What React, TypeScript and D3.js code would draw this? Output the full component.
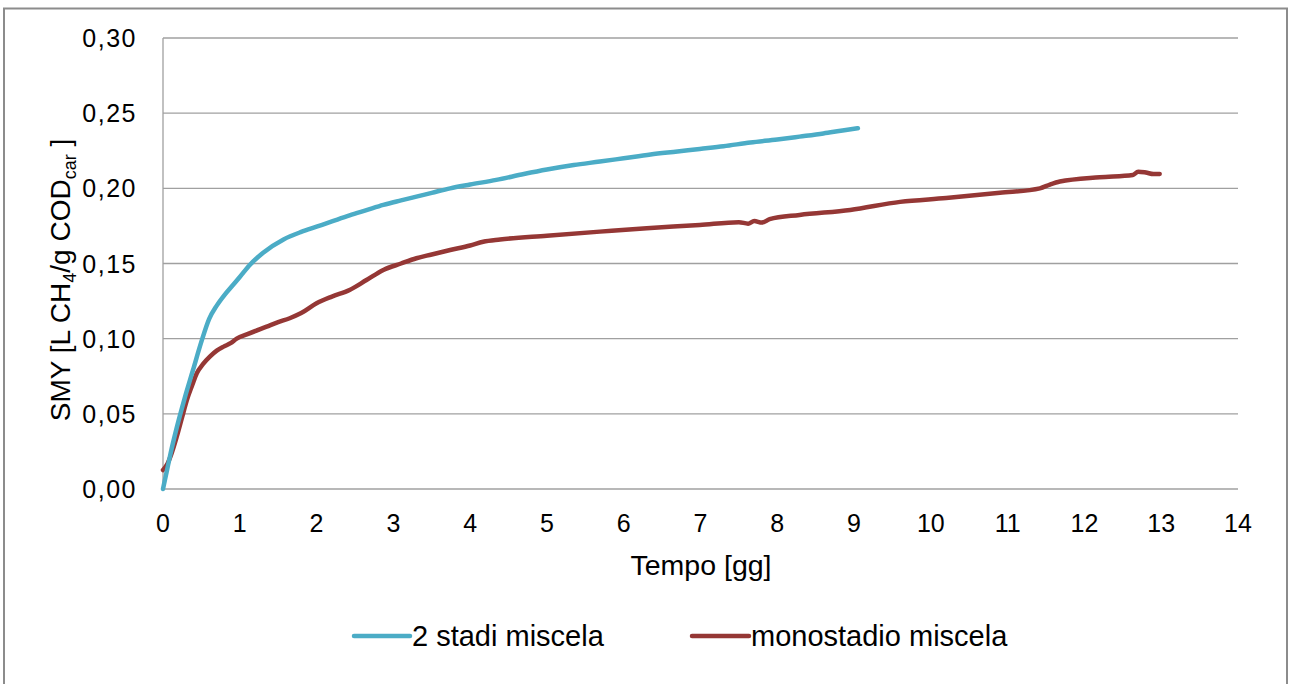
import React from "react";
import * as d3 from "d3";

const xTicks = [0, 1, 2, 3, 4, 5, 6, 7, 8, 9, 10, 11, 12, 13, 14];
const yTicks = [0, 0.05, 0.1, 0.15, 0.2, 0.25, 0.3];

const seriesNames = ["2 stadi miscela", "monostadio miscela"];
const seriesColors = ["#4BACC6", "#953735"];

const twoStageX = [0, 0.05, 0.1, 0.18, 0.28, 0.39, 0.5, 0.6, 0.7, 0.8, 0.9, 1.0, 1.13, 1.3, 1.57, 1.8, 2.0, 2.2, 2.43, 2.65, 2.87, 3.1, 3.3, 3.5, 3.74, 4.0, 4.34, 4.7, 5.0, 5.35, 5.69, 6.0, 6.35, 6.7, 6.99, 7.3, 7.65, 8.0, 8.29, 8.6, 8.85, 9.05];
const twoStageY = [0, 0.012, 0.024, 0.041, 0.06, 0.079, 0.098, 0.113, 0.122, 0.129, 0.135, 0.141, 0.149, 0.157, 0.166, 0.171, 0.1745, 0.178, 0.182, 0.1855, 0.189, 0.192, 0.1945, 0.197, 0.2, 0.2025, 0.2056, 0.2095, 0.2125, 0.2155, 0.2178, 0.22, 0.2225, 0.2245, 0.2262, 0.228, 0.2305, 0.2325, 0.2344, 0.2365, 0.2385, 0.24];

const monoX = [0, 0.05, 0.1, 0.18, 0.25, 0.31, 0.38, 0.44, 0.52, 0.61, 0.7, 0.79, 0.88, 0.96, 1.1, 1.35, 1.5, 1.65, 1.8, 2.0, 2.2, 2.43, 2.65, 2.87, 3.1, 3.3, 3.5, 3.74, 4.0, 4.17, 4.39, 5.0, 5.69, 6.3, 6.99, 7.5, 7.62, 7.7, 7.8, 7.9, 8.29, 8.95, 9.6, 10.2, 10.9, 11.42, 11.55, 11.68, 12.2, 12.63, 12.7, 12.8, 12.9, 12.98];
const monoY = [0.0126, 0.016, 0.022, 0.035, 0.048, 0.059, 0.069, 0.077, 0.083, 0.088, 0.092, 0.0947, 0.097, 0.1, 0.103, 0.108, 0.111, 0.1136, 0.117, 0.1235, 0.128, 0.1324, 0.139, 0.1457, 0.15, 0.1535, 0.156, 0.159, 0.162, 0.1645, 0.166, 0.1685, 0.1712, 0.1735, 0.1756, 0.1775, 0.1765, 0.1782, 0.1772, 0.1795, 0.1823, 0.1856, 0.191, 0.1935, 0.197, 0.2, 0.2025, 0.2045, 0.2074, 0.2089, 0.2111, 0.2105, 0.2095, 0.2096];

const W = 1291;
const H = 684;
const L = 163, R = 1238, T = 38, B = 489;

export default function App() {
  const x = d3.scaleLinear().domain([0, 14]).range([L, R]);
  const y = d3.scaleLinear().domain([0, 0.3]).range([B, T]);
  const line = d3
    .line<[number, number]>()
    .x((d) => x(d[0]))
    .y((d) => y(d[1]))
    .curve(d3.curveMonotoneX);

  const s1: [number, number][] = twoStageX.map((v, i) => [v, twoStageY[i]]);
  const s2: [number, number][] = monoX.map((v, i) => [v, monoY[i]]);

  const fmt = (v: number) => v.toFixed(2).replace(".", ",");
  const font = "Arial, 'Liberation Sans', sans-serif";

  return (
    <svg
      width={W}
      height={H}
      style={{ position: "absolute", left: 0, top: 0, background: "#fff" }}
      fontFamily={font}
    >
      <rect x={0} y={0} width={W} height={H} fill="#fff" />
      <rect x={4} y={8.5} width={1283} height={700} fill="none" stroke="#8c8c8c" strokeWidth={2} />

      {yTicks.map((t) => (
        <line key={"g" + t} x1={L} x2={R} y1={y(t)} y2={y(t)} stroke="#a0a0a0" strokeWidth={1.3} />
      ))}
      <line x1={L} x2={L} y1={T} y2={B} stroke="#a0a0a0" strokeWidth={1.3} />

      {yTicks.map((t) => (
        <text key={"yl" + t} x={137} y={y(t) + 9} textAnchor="end" fontSize={25} letterSpacing={1.5} fill="#000">
          {fmt(t)}
        </text>
      ))}
      {xTicks.map((t) => (
        <text key={"xl" + t} x={x(t)} y={532} textAnchor="middle" fontSize={25} fill="#000">
          {t}
        </text>
      ))}

      <text x={701} y={575} textAnchor="middle" fontSize={28.5} fill="#000">
        Tempo [gg]
      </text>
      <text transform={`translate(70,280) rotate(-90)`} textAnchor="middle" fontSize={28} fill="#000">
        SMY [L CH
        <tspan fontSize={18} dy={6}>4</tspan>
        <tspan dy={-6}>/g COD</tspan>
        <tspan fontSize={18} dy={6}>car</tspan>
        <tspan dy={-6}> ]</tspan>
      </text>

      <path d={line(s2) || ""} fill="none" stroke={seriesColors[1]} strokeWidth={4.5} strokeLinejoin="round" strokeLinecap="round" />
      <path d={line(s1) || ""} fill="none" stroke={seriesColors[0]} strokeWidth={4.5} strokeLinejoin="round" strokeLinecap="round" />

      <line x1={354} x2={410} y1={636} y2={636} stroke={seriesColors[0]} strokeWidth={4.5} strokeLinecap="round" />
      <text x={412} y={646} fontSize={29} fill="#000">{seriesNames[0]}</text>
      <line x1={692} x2={749} y1={636} y2={636} stroke={seriesColors[1]} strokeWidth={4.5} strokeLinecap="round" />
      <text x={751} y={646} fontSize={29} fill="#000">{seriesNames[1]}</text>
    </svg>
  );
}
